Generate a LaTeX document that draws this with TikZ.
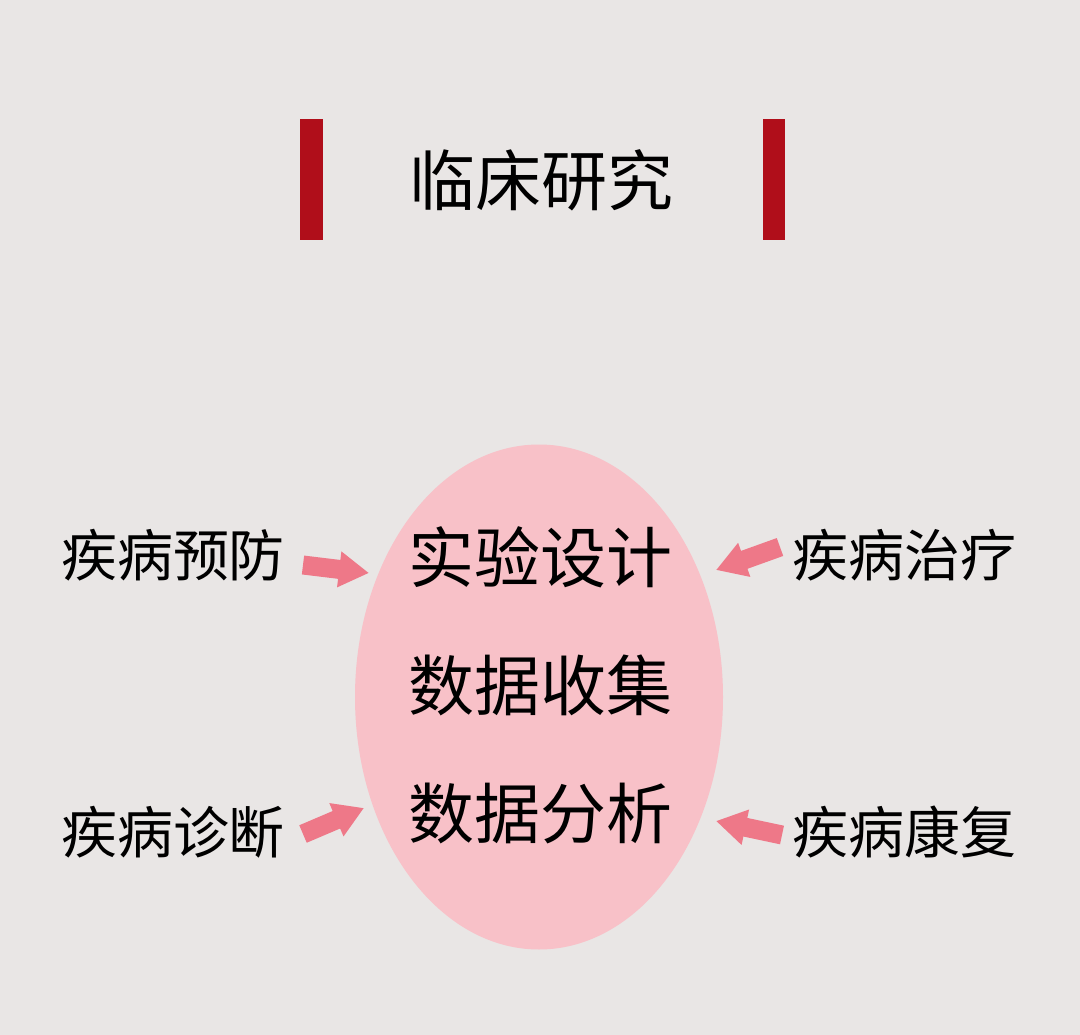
\documentclass[tikz,border=0pt]{standalone}
\usepackage{fontspec}
\setmainfont{Noto Sans CJK SC}
\usetikzlibrary{arrows.meta,calc,shapes.geometric}

\definecolor{paper}{RGB}{233,230,229}
\definecolor{barred}{RGB}{176,14,26}
\definecolor{corepink}{RGB}{248,193,200}
\definecolor{arrowpink}{RGB}{238,120,136}

\tikzset{
  word/.style={inner sep=0pt,font=\fontsize{56pt}{60pt}\selectfont},
  bigword/.style={inner sep=0pt,font=\fontsize{66pt}{70pt}\selectfont},
  flow/.style={arrowpink,line width=19pt,-{Triangle[length=30pt,width=34pt]}}
}

\begin{document}
\begin{tikzpicture}[x=1pt,y=-1pt]
            \fill[paper] (0,0) rectangle (1080,1035);

            % title with red bars
            \fill[barred] (300,119) rectangle (323,240);
            \fill[barred] (763,119) rectangle (785,240);
            \node[bigword] (title) at (541,180) {临床研究};

            % central ellipse
            \node[ellipse,fill=corepink,inner sep=0pt,minimum width=368pt,minimum height=505pt] (core) at (539,697) {};
            \node[bigword] (design) at (540,557) {实验设计};
            \node[bigword] (collect) at (540,685) {数据收集};
            \node[bigword] (analyse) at (540,813) {数据分析};

            % side topics
            \node[word] (prevent) at (173,555) {疾病预防};
            \node[word] (treat) at (904,555) {疾病治疗};
            \node[word] (diagnose) at (173,832) {疾病诊断};
            \node[word] (rehab) at (904,832) {疾病康复};

            \coordinate (T1) at (303,565);
            \coordinate (H1) at (369,573);
            \coordinate (T2) at (780,547);
            \coordinate (H2) at (716,570);
            \coordinate (T3) at (303,834);
            \coordinate (H3) at (364,808);
            \coordinate (T4) at (782,835);
            \coordinate (H4) at (716,821);
            \foreach \i in {1,2,3,4}
                \draw[flow] (T\i) -- (H\i);
        \end{tikzpicture}
\end{document}
